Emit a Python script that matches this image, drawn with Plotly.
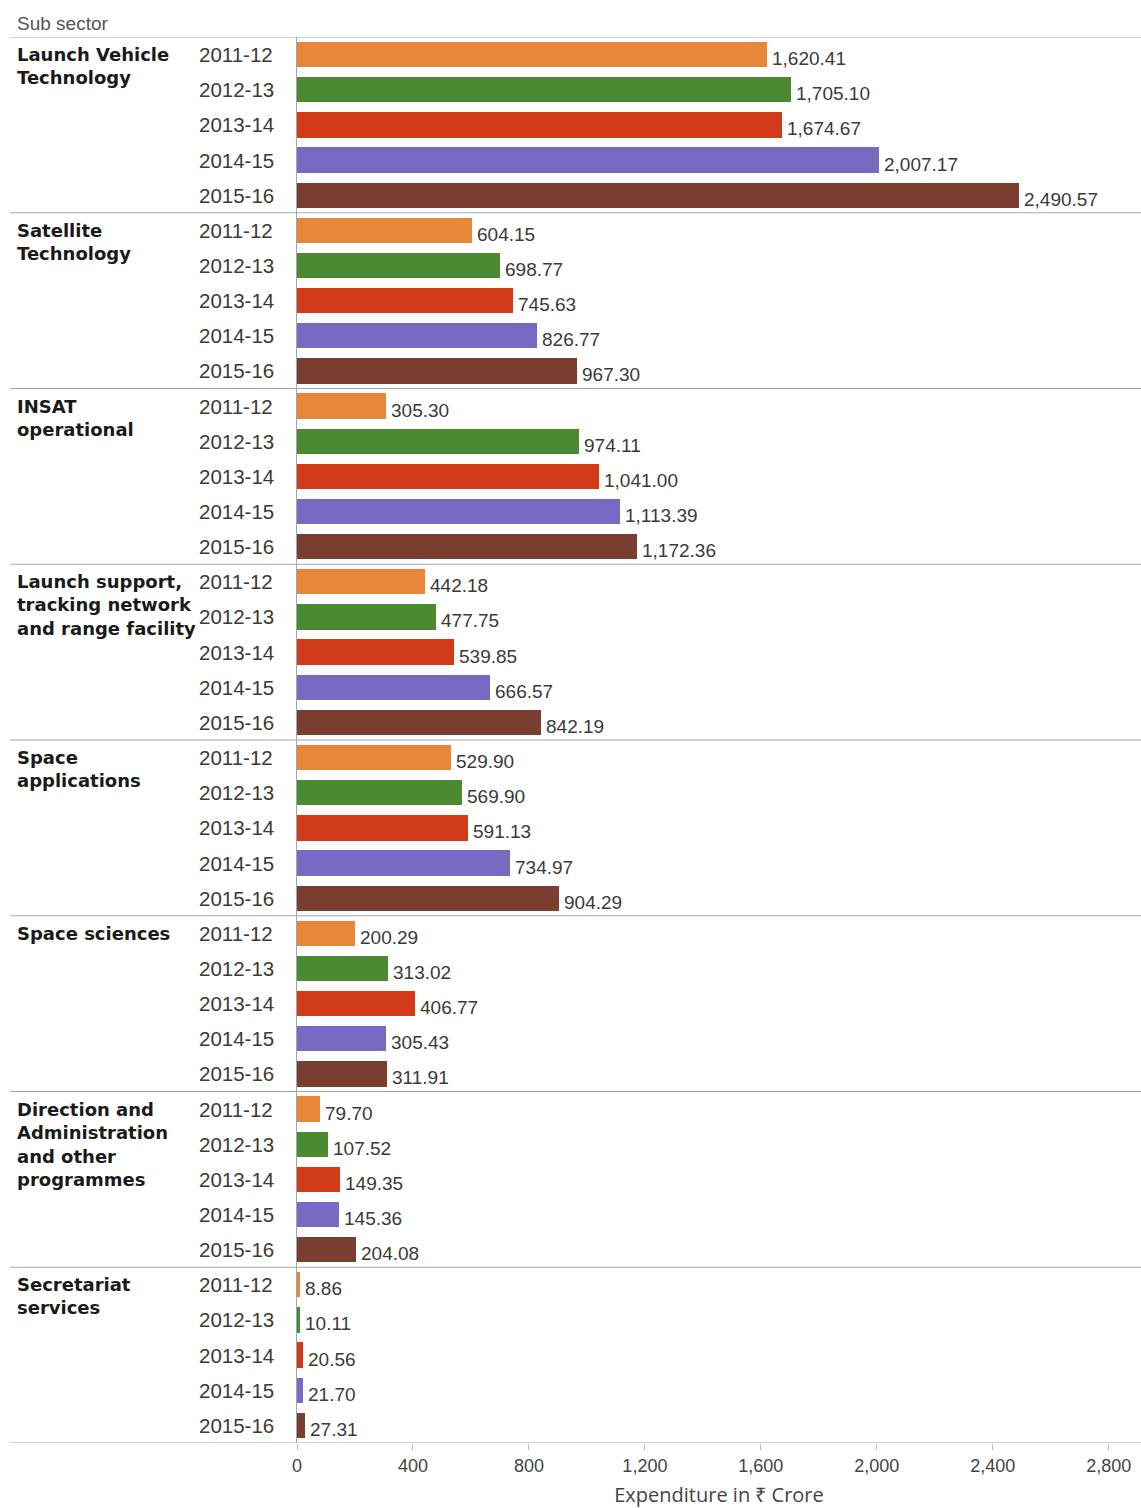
import plotly.graph_objects as go

sectors = [
    "Launch Vehicle<br>Technology",
    "Satellite<br>Technology",
    "INSAT<br>operational",
    "Launch support,<br>tracking network<br>and range facility",
    "Space<br>applications",
    "Space sciences",
    "Direction and<br>Administration<br>and other<br>programmes",
    "Secretariat<br>services",
]
years = ["2011-12", "2012-13", "2013-14", "2014-15", "2015-16"]
values_2011_12 = [1620.41, 604.15, 305.30, 442.18, 529.90, 200.29, 79.70, 8.86]
values_2012_13 = [1705.10, 698.77, 974.11, 477.75, 569.90, 313.02, 107.52, 10.11]
values_2013_14 = [1674.67, 745.63, 1041.00, 539.85, 591.13, 406.77, 149.35, 20.56]
values_2014_15 = [2007.17, 826.77, 1113.39, 666.57, 734.97, 305.43, 145.36, 21.70]
values_2015_16 = [2490.57, 967.30, 1172.36, 842.19, 904.29, 311.91, 204.08, 27.31]
series = [values_2011_12, values_2012_13, values_2013_14, values_2014_15, values_2015_16]
colors = ["#E8873A", "#4B8A30", "#D33B18", "#7A69C2", "#7A3F30"]
x_ticks = [0, 400, 800, 1200, 1600, 2000, 2400, 2800]

W, H = 1141, 1508
L, R, T, B = 297, 0, 37, 65
XMAX = (W - L) / 0.2899
nrows = len(sectors) * len(years)
FONT = "Liberation Sans, Arial, sans-serif"

fig = go.Figure()
for yi, (yr, vals, col) in enumerate(zip(years, series, colors)):
    ys = [g * len(years) + yi for g in range(len(sectors))]
    fig.add_trace(go.Bar(
        x=vals, y=ys, orientation="h", name=yr,
        marker=dict(color=col, line=dict(width=0)),
        width=0.72, showlegend=False, hoverinfo="x",
    ))
    for v, yv in zip(vals, ys):
        fig.add_annotation(
            x=v, y=yv, xref="x", yref="y", text=f"{v:,.2f}",
            showarrow=False, xanchor="left", yanchor="middle",
            xshift=3, yshift=-4,
            font=dict(family=FONT, size=19, color="#3a3a3a"),
        )
        fig.add_annotation(
            x=(197 - L) / (W - L - R), y=yv, xref="paper", yref="y", text=yr,
            showarrow=False, xanchor="left", yanchor="middle",
            font=dict(family=FONT, size=20.5, color="#3a3a3a"),
        )

for g, s in enumerate(sectors):
    fig.add_annotation(
        x=(15 - L) / (W - L - R), y=g * len(years) - 0.5, xref="paper", yref="y",
        text=s, showarrow=False, xanchor="left", yanchor="top", align="left",
        yshift=-5,
        font=dict(family="DejaVu Sans, sans-serif", size=18, color="#1a1a1a", weight="bold"),
    )

shapes = []
for g in range(len(sectors) + 1):
    shapes.append(dict(
        type="line", xref="paper", yref="y",
        x0=(10 - L) / (W - L - R), x1=1, y0=g * len(years) - 0.5, y1=g * len(years) - 0.5,
        line=dict(color="#a8a8a8", width=1.2),
    ))
fig.update_layout(shapes=shapes)

fig.add_annotation(
    x=(15 - L) / (W - L - R), y=1, xref="paper", yref="paper", text="Sub sector",
    showarrow=False, xanchor="left", yanchor="bottom", yshift=1,
    font=dict(family=FONT, size=19, color="#555555"),
)

fig.update_layout(
    width=W, height=H,
    margin=dict(l=L, r=R, t=T, b=B),
    paper_bgcolor="white", plot_bgcolor="white",
    bargap=0,
    xaxis=dict(
        range=[0, XMAX], tickvals=x_ticks, ticktext=[f"{t:,}" for t in x_ticks],
        showgrid=False, zeroline=False, showline=False,
        ticks="outside", ticklen=6, tickcolor="#bbbbbb",
        tickfont=dict(family=FONT, size=18, color="#444444"),
        title=dict(text="Expenditure in ₹ Crore", standoff=14,
                   font=dict(family="Open Sans, sans-serif", size=20, color="#444444")),
    ),
    yaxis=dict(
        range=[nrows - 0.5, -0.5], showticklabels=False, showgrid=False,
        zeroline=False, showline=True, linecolor="#9aa6b4", linewidth=1, ticks="",
    ),
)

fig.write_html("out.html")
